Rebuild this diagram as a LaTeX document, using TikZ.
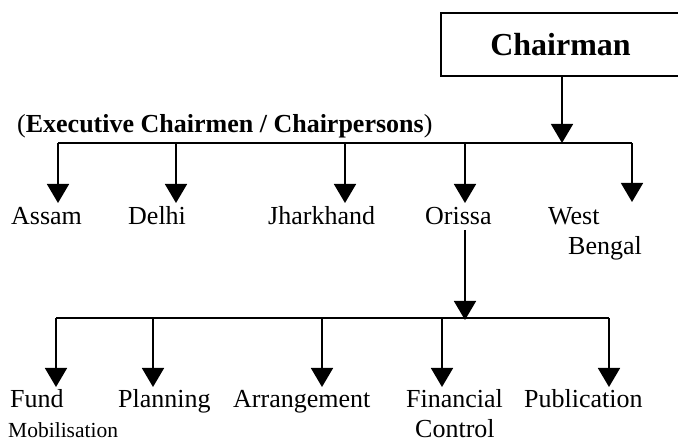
\documentclass[tikz,border=0pt]{standalone}
\usepackage{fontspec}
\setmainfont{Liberation Serif}
\usetikzlibrary{arrows.meta}
\begin{document}
\begin{tikzpicture}[x=1pt,y=-1pt,
  conn/.style={line width=1.6pt},
  arr/.style={line width=1.6pt,-{Triangle[width=22pt,length=19pt]}},
  lbl/.style={anchor=base west,inner sep=0pt,font=\fontsize{26}{30}\selectfont},
  small/.style={anchor=base west,inner sep=0pt,font=\fontsize{21.5}{25}\selectfont},
  chairbox/.style={draw,line width=1.6pt,minimum width=239pt,minimum height=63pt,inner sep=0pt,font=\fontsize{32}{36}\selectfont\bfseries}]
\useasboundingbox (0,0) rectangle (678,443);
% chairman
\node[chairbox] (chair) at (560.5,44.5) {Chairman};
\node[lbl] (exec) at (17,133) {(\textbf{Executive Chairmen / Chairpersons})};
% top bus
\coordinate (top) at (562,143);
\coordinate (b1) at (58,143);
\coordinate (b2) at (176,143);
\coordinate (b3) at (345,143);
\coordinate (b4) at (465,143);
\coordinate (b5) at (632,143);
\coordinate (t1) at (58,203);
\coordinate (t2) at (176,203);
\coordinate (t3) at (345,203);
\coordinate (t4) at (465,203);
\coordinate (t5) at (632,202);
\draw[arr] (chair.south -| top) -- (top);
\draw[conn] (b1) -- (b5);
\foreach \i in {1,...,5} {\draw[arr] (b\i) -- (t\i);}
% state labels
\node[lbl] (assam) at (11,225) {Assam};
\node[lbl] (delhi) at (128,225) {Delhi};
\node[lbl] (jhar) at (268,225) {Jharkhand};
\node[lbl] (orissa) at (425,225) {Orissa};
\node[lbl] (west) at (548,225) {West};
\node[lbl] (bengal) at (568,255) {Bengal};
% orissa to bottom bus
\coordinate (os) at (465,230);
\coordinate (ot) at (465,320);
\draw[arr] (os) -- (ot);
\coordinate (c1) at (56,318);
\coordinate (c2) at (153,318);
\coordinate (c3) at (322,318);
\coordinate (c4) at (442,318);
\coordinate (c5) at (609,318);
\coordinate (d1) at (56,387);
\coordinate (d2) at (153,387);
\coordinate (d3) at (322,387);
\coordinate (d4) at (442,387);
\coordinate (d5) at (609,387);
\draw[conn] (c1) -- (c5);
\foreach \i in {1,...,5} {\draw[arr] (c\i) -- (d\i);}
% bottom labels
\node[lbl] (fund) at (10,408) {Fund};
\node[small] (mob) at (8,438) {Mobilisation};
\node[lbl] (plan) at (118,408) {Planning};
\node[lbl] (arr) at (233,408) {Arrangement};
\node[lbl] (fin) at (406,408) {Financial};
\node[lbl] (ctrl) at (415,438) {Control};
\node[lbl] (pub) at (524,408) {Publication};
\end{tikzpicture}
\end{document}
